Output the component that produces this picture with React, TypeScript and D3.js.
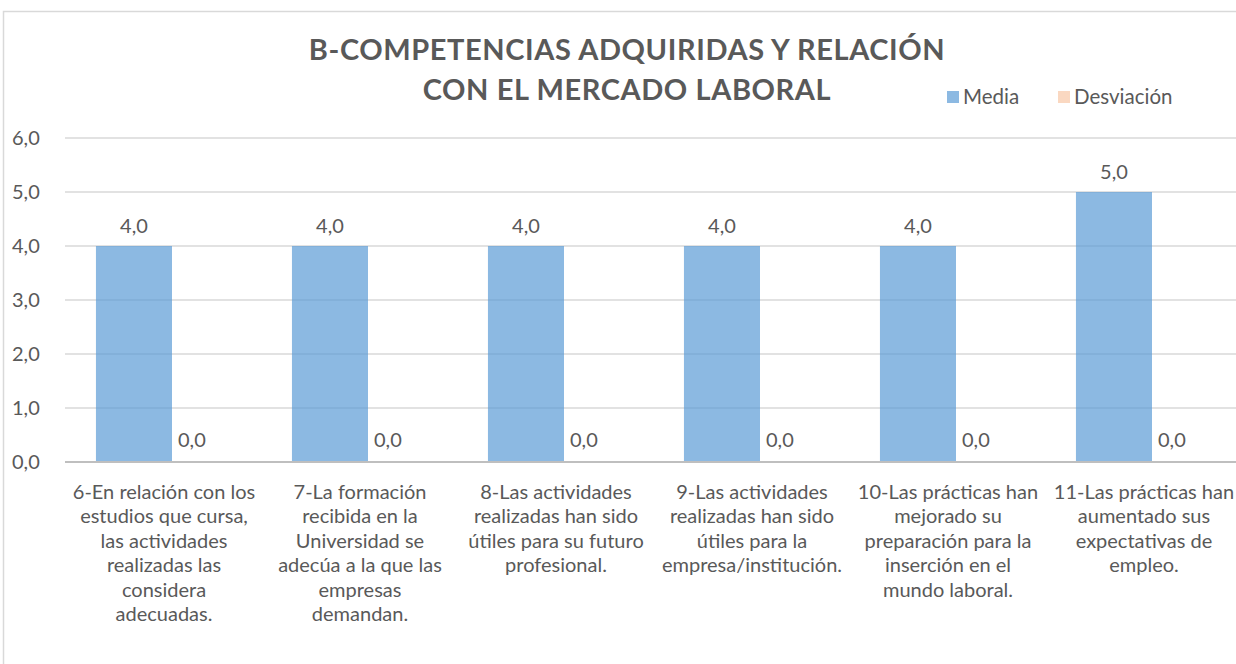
import React from "react";
import * as d3 from "d3";

const categories: string[][] = [
  ["6-En relación con los", "estudios que cursa,", "las actividades", "realizadas las", "considera", "adecuadas."],
  ["7-La formación", "recibida en la", "Universidad se", "adecúa a la que las", "empresas", "demandan."],
  ["8-Las actividades", "realizadas han sido", "útiles para su futuro", "profesional."],
  ["9-Las actividades", "realizadas han sido", "útiles para la", "empresa/institución."],
  ["10-Las prácticas han", "mejorado su", "preparación para la", "inserción en el", "mundo laboral."],
  ["11-Las prácticas han", "aumentado sus", "expectativas de", "empleo."],
];
const media: number[] = [4.0, 4.0, 4.0, 4.0, 4.0, 5.0];
const desviacion: number[] = [0.0, 0.0, 0.0, 0.0, 0.0, 0.0];
const seriesNames: string[] = ["Media", "Desviación"];
const yTicks: number[] = [0, 1, 2, 3, 4, 5, 6];
const titleLines: string[] = ["B-COMPETENCIAS ADQUIRIDAS Y RELACIÓN", "CON EL MERCADO LABORAL"];

const FONT = "Lato, Carlito, Calibri, sans-serif";
const TEXT = "#595959";

export default function App() {
  const W = 1236, H = 664;
  const x = d3.scaleBand<number>().domain(d3.range(categories.length)).range([74, 74 + 6 * 196]).paddingInner(0.224).paddingOuter(0.112);
  const inner = d3.scaleBand<number>().domain([0, 1]).range([0, x.bandwidth()]);
  const y = d3.scaleLinear().domain([0, 6]).range([462, 138]);
  const fmt = (v: number) => v.toFixed(1).replace(".", ",");
  const colors = ["#5b9bd5", "#ed7d31"];
  const opac = [0.7, 0.3];
  const data = [media, desviacion];

  return (
    <svg width={W} height={H} style={{ position: "absolute", left: 0, top: 0, background: "#fff" }}>
      <rect x={3.5} y={11.5} width={W + 10} height={H + 10} fill="#fff" stroke="#d9d9d9" strokeWidth={1.5} />
      {titleLines.map((t, i) => (
        <text key={i} x={627} y={60 + i * 40} textAnchor="middle" fontFamily={FONT} fontWeight={700} fontSize={29} fill={TEXT} letterSpacing={0.6}>{t}</text>
      ))}
      {seriesNames.map((n, i) => {
        const lx = [947, 1058][i];
        return (
          <g key={n}>
            <rect x={lx} y={91} width={12} height={12} fill={colors[i]} fillOpacity={opac[i]} />
            <text x={lx + 16} y={104} fontFamily={FONT} fontSize={20.5} fill={TEXT}>{n}</text>
          </g>
        );
      })}
      {yTicks.map((t) => (
        <g key={t}>
          {t > 0 && <line x1={65} x2={W} y1={y(t)} y2={y(t)} stroke="#d9d9d9" strokeWidth={1.5} />}
          <text x={12} y={y(t) + 7} fontFamily={FONT} fontSize={20} fill={TEXT}>{fmt(t)}</text>
        </g>
      ))}
      {categories.map((_, ci) =>
        data.map((s, si) => {
          const bx = (x(ci) as number) + (inner(si) as number);
          const bw = inner.bandwidth();
          const v = s[ci];
          return (
            <g key={`${ci}-${si}`}>
              <rect x={bx} y={y(v)} width={bw} height={y(0) - y(v)} fill={colors[si]} fillOpacity={opac[si]} />
              {v > 0 ? (
                <text x={bx + bw / 2} y={y(v) - 13} textAnchor="middle" fontFamily={FONT} fontSize={20} fill={TEXT}>{fmt(v)}</text>
              ) : (
                <text x={bx + 6} y={y(v) - 15} textAnchor="start" fontFamily={FONT} fontSize={20} fill={TEXT}>{fmt(v)}</text>
              )}
            </g>
          );
        })
      )}
      <line x1={65} x2={W} y1={y(0)} y2={y(0)} stroke="#bfbfbf" strokeWidth={2} />
      {categories.map((lines, ci) => {
        const cx = (x(ci) as number) + x.bandwidth() / 2 - 8;
        return (
          <text key={ci} textAnchor="middle" fontFamily={FONT} fontSize={20} fill={TEXT}>
            {lines.map((l, li) => (
              <tspan key={li} x={cx} y={499 + li * 24.4}>{l}</tspan>
            ))}
          </text>
        );
      })}
    </svg>
  );
}
